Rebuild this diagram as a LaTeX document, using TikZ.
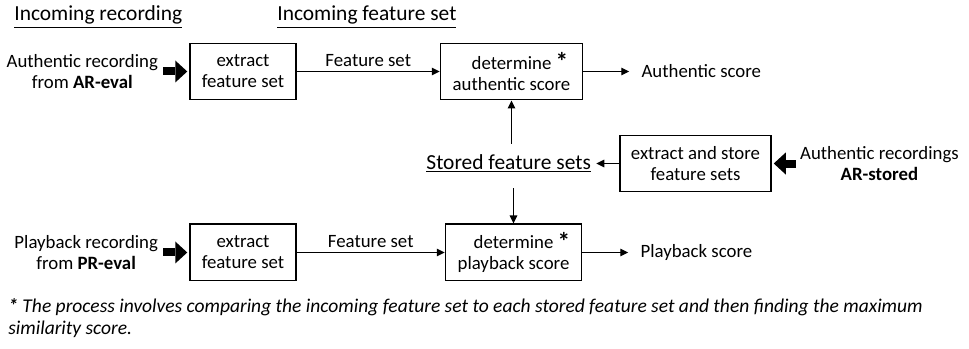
\documentclass[tikz,border=0pt]{standalone}
\usepackage{fontspec}
\setmainfont{Carlito}
\usepackage{tikz}
\usetikzlibrary{
  arrows.meta,
  positioning
}
\definecolor{frInk}{HTML}{000000}
\newcommand{\diagbody}{\fontsize{10.7}{12}\selectfont}
\newcommand{\diaghead}{\fontsize{12.2}{14}\selectfont}
\newcommand{\diagnote}{\fontsize{11.1}{12.5}\selectfont\itshape}
\newcommand{\diagstar}{\rlap{\ \raisebox{-0.2ex}{\textbf{\Large *}}}}
\tikzset{
  procbox/.style={
    draw=frInk, line width=0.85pt, minimum height=11.3mm, align=center,
    inner sep=1pt, font=\diagbody
  },
  srctext/.style={inner sep=0pt, align=center, font=\diagbody},
  outtext/.style={inner sep=0pt, font=\diagbody},
  storedtext/.style={inner sep=0pt, font=\diaghead},
  header/.style={inner sep=0pt, anchor=west, font=\diaghead},
  flow/.style={-{Triangle[length=1.6mm, width=1.5mm]}, line width=0.7pt, frInk},
  feed/.style={-{Triangle[length=2.4mm, width=4.4mm, line width=0pt]}, line width=1.6mm, frInk},
  tag/.style={font=\diagbody, above, inner sep=2.5pt},
  note/.style={inner sep=0pt, anchor=west, align=left, font=\diagnote}
}

\begin{document}
\begin{tikzpicture}[node distance=4mm]
  \useasboundingbox (0,0) rectangle (19.38,-6.96);
  \node[header] (hdrRec) at (0.28,-0.34) {\underline{Incoming recording}};
  \node[header] (hdrFeat) at (5.54,-0.34) {\underline{Incoming feature set}};
  \node[procbox, minimum width=21.2mm] (extA) at (4.86,-1.43) {extract\\feature set};
  \node[procbox, minimum width=28.4mm, right=28.6mm of extA] (detA) {determine\diagstar\\authentic score};
  \node[procbox, minimum width=21.2mm, below=24.6mm of extA] (extB) {extract\\feature set};
  \node[procbox, minimum width=27.2mm, right=29.6mm of extB] (detB) {determine\diagstar\\playback score};
  \node[srctext, left=6.2mm of extA] (srcA) {Authentic recording\\from \textbf{AR-eval}};
  \node[srctext, left=6.2mm of extB] (srcB) {Playback recording\\from \textbf{PR-eval}};
  \node[outtext, right=11.6mm of detA] (scoreA) {Authentic score};
  \node[outtext, right=11.6mm of detB] (scoreB) {Playback score};
  \node[procbox, minimum width=30.2mm] (store) at (13.91,-3.27) {extract and store\\feature sets};
  \node[srctext, right=5.6mm of store] (srcS) {Authentic recordings\\\textbf{AR-stored}};
  \node[storedtext, left=5.6mm of store] (stored) {\underline{Stored feature sets}};
  \node[note] (note) at (0.16,-6.36) {\textbf{*} The process involves comparing the incoming feature set to each stored feature set and then finding the maximum\\similarity score.};
  \draw[feed, shorten <=1mm, shorten >=0.4mm] (srcA.east) -- (extA.west);
  \draw[feed, shorten <=1mm, shorten >=0.4mm] (srcB.east) -- (extB.west);
  \draw[flow] (extA) -- node[tag] {Feature set} (detA);
  \draw[flow] (extB) -- node[tag] {Feature set} (detB);
  \draw[flow, shorten >=2.4mm] (detA) -- (scoreA);
  \draw[flow, shorten >=2.4mm] (detB) -- (scoreB);
  \draw[feed, shorten <=0.8mm, shorten >=0.4mm] (srcS.west) -- (store.east);
  \draw[flow, shorten >=1mm] (store) -- (stored);
  \draw[flow, shorten <=2mm] (stored.north -| detA.south) -- (detA.south);
  \draw[flow, shorten <=3mm] (stored.south -| detB.north) -- (detB.north);
\end{tikzpicture}
\end{document}
